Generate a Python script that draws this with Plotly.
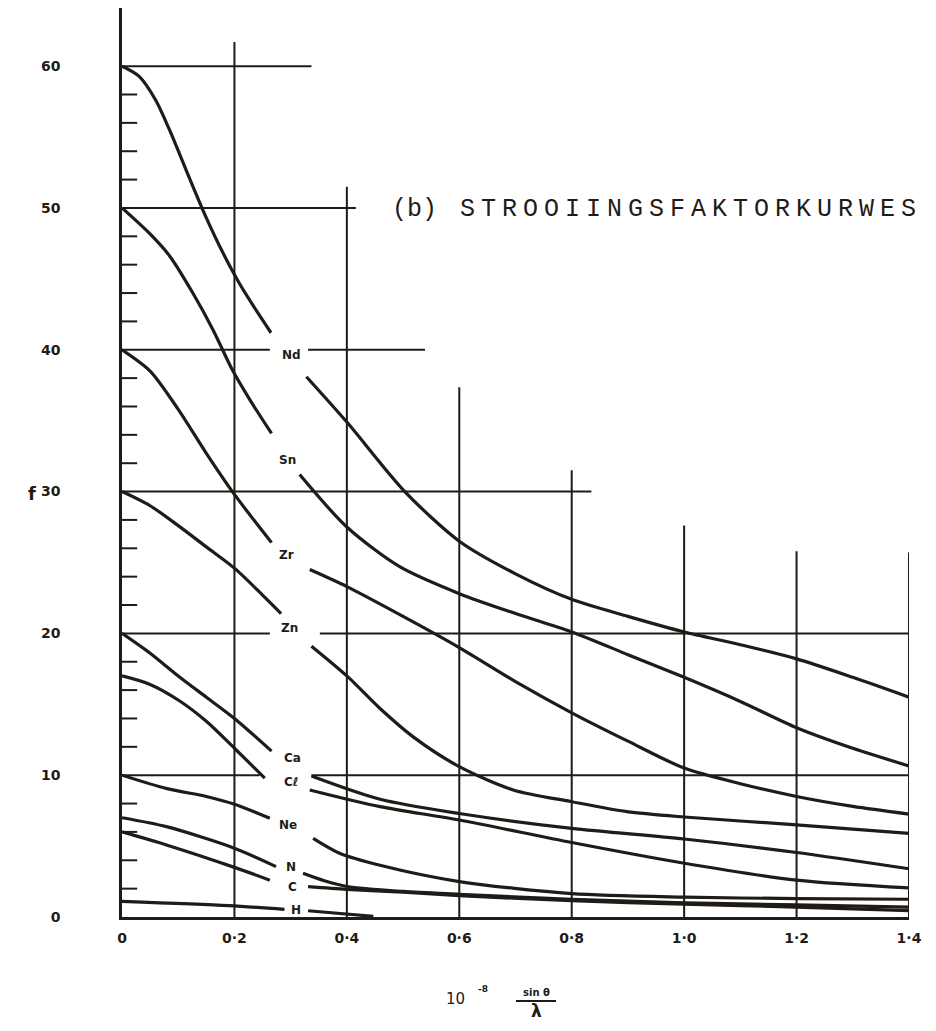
import plotly.graph_objects as go

# ---------------- data ----------------
x_ticks = [0, 0.2, 0.4, 0.6, 0.8, 1.0, 1.2, 1.4]
x_tick_text = ["0", "0·2", "0·4", "0·6", "0·8", "1·0", "1·2", "1·4"]
f_ticks = [0, 10, 20, 30, 40, 50, 60]
f_tick_text = ["0", "10", "20", "30", "40", "50", "60"]

elements = ["Nd", "Sn", "Zr", "Zn", "Ca", "Cℓ", "Ne", "N", "C", "H"]

# each curve is broken where its label sits (None = gap)
nd_x = [0, 0.03, 0.06, 0.09, 0.12, 0.15, 0.18, 0.21, 0.24, 0.265,
        None, 0.328, 0.4, 0.503, 0.6, 0.7, 0.8, 0.9, 1.0, 1.1, 1.2, 1.3, 1.4]
nd_f = [60, 59.3, 57.6, 55.0, 52.1, 49.3, 46.8, 44.6, 42.7, 41.2,
        None, 38.1, 34.9, 30.0, 26.5, 24.2, 22.4, 21.2, 20.1, 19.2, 18.2, 16.9, 15.5]

sn_x = [0, 0.049, 0.085, 0.126, 0.162, 0.196, 0.227, 0.266,
        None, 0.316, 0.4, 0.494, 0.6, 0.7, 0.8, 0.9, 1.0, 1.1, 1.2, 1.3, 1.4]
sn_f = [50, 48.2, 46.6, 44.0, 41.4, 38.6, 36.5, 34.1,
        None, 31.2, 27.5, 24.7, 22.8, 21.4, 20.1, 18.5, 16.9, 15.2, 13.35, 11.9, 10.65]

zr_x = [0, 0.05, 0.1, 0.15, 0.2, 0.266,
        None, 0.334, 0.4, 0.5, 0.6, 0.7, 0.8, 0.9, 1.0, 1.1, 1.2, 1.3, 1.4]
zr_f = [40, 38.5, 35.8, 32.7, 29.8, 26.4,
        None, 24.5, 23.3, 21.2, 19.0, 16.6, 14.4, 12.4, 10.5, 9.4, 8.5, 7.8, 7.26]

zn_x = [0, 0.05, 0.1, 0.15, 0.2, 0.25, 0.283,
        None, 0.337, 0.4, 0.459, 0.518, 0.6, 0.696, 0.8, 0.898, 1.0, 1.2, 1.4]
zn_f = [30, 29.0, 27.6, 26.1, 24.6, 22.7, 21.4,
        None, 19.1, 17.0, 14.7, 12.7, 10.6, 8.96, 8.13, 7.43, 7.05, 6.5, 5.9]

ca_x = [0, 0.05, 0.1, 0.15, 0.2, 0.266,
        None, 0.337, 0.459, 0.6, 0.8, 1.0, 1.2, 1.4]
ca_f = [20, 18.6, 17.0, 15.5, 14.0, 11.7,
        None, 9.94, 8.3, 7.3, 6.25, 5.5, 4.55, 3.4]

cl_x = [0, 0.05, 0.1, 0.15, 0.2, 0.254,
        None, 0.334, 0.459, 0.6, 0.8, 1.0, 1.2, 1.4]
cl_f = [17, 16.4, 15.3, 13.8, 11.9, 9.8,
        None, 8.96, 7.78, 6.84, 5.25, 3.79, 2.6, 2.05]

ne_x = [0, 0.08, 0.15, 0.2, 0.263,
        None, 0.34, 0.387, 0.459, 0.6, 0.8, 1.0, 1.2, 1.4]
ne_f = [10, 9.05, 8.5, 7.95, 6.96,
        None, 5.55, 4.5, 3.65, 2.5, 1.65, 1.4, 1.3, 1.25]

n_x = [0, 0.079, 0.2, 0.274,
       None, 0.322, 0.36, 0.4, 0.5, 0.6, 0.8, 1.0, 1.2, 1.4]
n_f = [7, 6.37, 4.85, 3.55,
       None, 3.08, 2.55, 2.15, 1.8, 1.6, 1.25, 1.0, 0.85, 0.7]

c_x = [0, 0.079, 0.2, 0.263,
       None, 0.331, 0.4, 0.5, 0.6, 0.8, 1.0, 1.2, 1.4]
c_f = [6, 5.08, 3.5, 2.6,
       None, 2.14, 1.95, 1.75, 1.5, 1.15, 0.9, 0.7, 0.45]

h_x = [0, 0.19, 0.289, None, 0.331, 0.447]
h_f = [1.1, 0.8, 0.54, None, 0.44, 0.05]

curves_x = [nd_x, sn_x, zr_x, zn_x, ca_x, cl_x, ne_x, n_x, c_x, h_x]
curves_f = [nd_f, sn_f, zr_f, zn_f, ca_f, cl_f, ne_f, n_f, c_f, h_f]

# ---------------- layout constants ----------------
INK = "#1f1b17"
LABEL_POS = [(0.301, 39.6), (0.295, 32.2), (0.292, 25.5), (0.298, 20.35),
             (0.304, 11.2), (0.301, 9.54), (0.295, 6.49), (0.301, 3.55),
             (0.304, 2.14), (0.309, 0.49)]
# horizontal rule segments (level -> list of x spans)
H_RULES = {60: [(0, 0.337)], 50: [(0, 0.416)], 40: [(0, 0.263), (0.331, 0.539)],
           30: [(0, 0.835)], 20: [(0, 0.263), (0.352, 1.4)],
           10: [(0, 0.245), (0.337, 1.4)]}
# vertical rule tops
V_RULES = {0.2: 61.7, 0.4: 51.5, 0.6: 37.35, 0.8: 31.5, 1.0: 27.6, 1.2: 25.8, 1.4: 25.7}
MINOR_TICKS = [v for v in range(2, 60, 2) if v % 10 != 0]
TICK_LEN = 0.027

# page has an 8px body margin: figure = window minus 8px each side
W, H = 920, 1015
L, R, T, B = 114, 19, 0, 106
PLOT_L, PLOT_B = 122, 917          # plot corner in window pixels
PW, PH = W - L - R, H - T - B


def px(xw):
    return (xw - PLOT_L) / PW


def py(yw):
    return (PLOT_B - yw) / PH


fig = go.Figure()
for name, xs, fs in zip(elements, curves_x, curves_f):
    fig.add_trace(go.Scatter(x=xs, y=fs, mode="lines", name=name,
                             line=dict(color=INK, width=3.2, shape="spline", smoothing=0.8),
                             connectgaps=False, showlegend=False, hoverinfo="x+y+name"))

shapes = []
for lvl, spans in H_RULES.items():
    for x0, x1 in spans:
        shapes.append(dict(type="line", xref="x", yref="y", x0=x0, x1=x1, y0=lvl, y1=lvl,
                           line=dict(color=INK, width=2)))
for xv, top in V_RULES.items():
    shapes.append(dict(type="line", xref="x", yref="y", x0=xv, x1=xv, y0=0, y1=top,
                       line=dict(color=INK, width=2)))
for t in MINOR_TICKS:
    shapes.append(dict(type="line", xref="x", yref="y", x0=0, x1=TICK_LEN, y0=t, y1=t,
                       line=dict(color=INK, width=2)))
# fraction bar of the x-axis title
shapes.append(dict(type="line", xref="paper", yref="paper", x0=px(516), x1=px(556),
                   y0=py(1001), y1=py(1001), line=dict(color=INK, width=2)))

annotations = []
for name, (lx, lf) in zip(elements, LABEL_POS):
    annotations.append(dict(x=lx, y=lf, xref="x", yref="y", text="<b>%s</b>" % name,
                            showarrow=False, xanchor="center", yanchor="middle",
                            font=dict(family="DejaVu Sans", size=12, color=INK)))


def note(xw, yw, text, family="DejaVu Sans", size=12, xanchor="center"):
    return dict(x=px(xw), y=py(yw), xref="paper", yref="paper", text=text, showarrow=False,
                xanchor=xanchor, yanchor="middle", font=dict(family=family, size=size, color=INK))


annotations += [
    note(32, 493, "<b>f</b>", size=18),
    note(455, 999, "10", size=15),
    note(483, 989, "<b>-8</b>", size=9),
    note(536, 992, "<b>sin θ</b>", size=10),
    note(536, 1011, "<b>λ</b>", size=17),
    note(390, 209, "(b)", family="Liberation Mono", size=25, xanchor="left"),
    note(458, 209, '<span style="letter-spacing:6px">STROOIINGSFAKTORKURWES</span>',
         family="Liberation Mono", size=25, xanchor="left"),
]

fig.update_layout(
    width=W, height=H,
    margin=dict(l=L, r=R, t=T, b=B, autoexpand=False),
    paper_bgcolor="#ffffff", plot_bgcolor="#ffffff",
    shapes=shapes, annotations=annotations,
    xaxis=dict(range=[0, 1.4], tickvals=x_ticks, ticktext=x_tick_text, showgrid=False,
               zeroline=False, showline=True, linecolor=INK, linewidth=2.5, ticks="",
               ticklabelstandoff=6,
               tickfont=dict(family="DejaVu Sans", size=14, color=INK, weight="bold")),
    yaxis=dict(range=[0, 64.1], tickvals=f_ticks, ticktext=f_tick_text, showgrid=False,
               zeroline=False, showline=True, linecolor=INK, linewidth=2.5, ticks="",
               ticklabelstandoff=56,
               tickfont=dict(family="DejaVu Sans", size=14, color=INK, weight="bold")),
)

fig.write_html("out.html")
